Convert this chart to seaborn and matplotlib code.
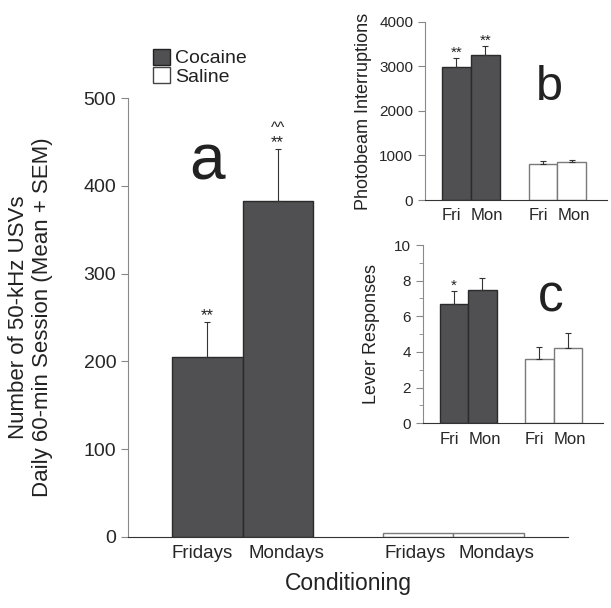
import pandas as pd
import seaborn as sns
import matplotlib.pyplot as plt
from matplotlib.patches import Patch
from matplotlib.ticker import MultipleLocator
from matplotlib.transforms import ScaledTranslation

# -----------------------------
# Data
# -----------------------------
groups = ['Cocaine', 'Cocaine', 'Saline', 'Saline']
long_days = ['Fridays', 'Mondays', 'Fridays', 'Mondays']
short_days = ['Fri', 'Mon', 'Fri', 'Mon']

usv_mean = [205, 383, 4, 5]
usv_sem = [40, 59, 0, 0]
usv_marks = ['**', '**', '', '']

beam_mean = [2980, 3250, 820, 850]
beam_sem = [200, 210, 60, 50]
beam_marks = ['**', '**', '', '']

lever_mean = [6.7, 7.5, 3.6, 4.2]
lever_sem = [0.72, 0.65, 0.65, 0.85]
lever_marks = ['*', '', '', '']

bar_pos = [0, 1, 3, 4]
DARK = '#505052'

sns.set_style('ticks')
plt.rcParams['font.family'] = ['Liberation Sans', 'DejaVu Sans']
plt.rcParams['text.color'] = '#222222'
plt.rcParams['axes.labelcolor'] = '#222222'


def draw_panel(ax, means, sems, marks, labels, star_size):
    df = pd.DataFrame({'pos': bar_pos, 'value': means, 'group': groups})
    sns.barplot(data=df, x='pos', y='value', hue='group', native_scale=True,
                dodge=False, width=1.0, palette={'Cocaine': DARK, 'Saline': 'white'},
                legend=False, errorbar=None, ax=ax, linewidth=1.0)
    for p in ax.patches:
        if p.get_facecolor()[0] > 0.9:
            p.set_edgecolor('#7a7a7a')
        else:
            p.set_edgecolor('#2a2a2a')
    for x, m, s, t in zip(bar_pos, means, sems, marks):
        if s > 0:
            ax.errorbar([x], [m], yerr=[[0], [s]], fmt='none', ecolor='#333333',
                        elinewidth=0.8, capsize=2.2, capthick=0.8)
        if t:
            ax.annotate(t, (x, m + s), xytext=(0, -1), textcoords='offset points',
                        ha='center', va='bottom', fontsize=star_size)
    ax.set_xticks(bar_pos)
    ax.set_xticklabels(labels)
    ax.tick_params(axis='x', length=0, pad=6)
    ax.tick_params(axis='y', direction='out', length=5, color='#888888')
    sns.despine(ax=ax)
    ax.spines['left'].set_color('#8a8a8a')
    ax.spines['bottom'].set_color('#333333')
    ax.set_xlabel('')


def nudge_labels(ax, shifts_px):
    # small horizontal nudges of the x tick labels (in pixels)
    for lab, dx in zip(ax.get_xticklabels(), shifts_px):
        lab.set_transform(lab.get_transform() + ScaledTranslation(dx / 100, 0, fig.dpi_scale_trans))


fig = plt.figure(figsize=(6.11, 6.08), dpi=100)

# main panel a
ax = fig.add_axes([0.2095, 0.1168, 0.720, 0.722])
draw_panel(ax, usv_mean, usv_sem, usv_marks, long_days, 12)
ax.annotate('^^', (1, usv_mean[1] + usv_sem[1]), xytext=(0, 10), textcoords='offset points',
            ha='center', va='bottom', fontsize=11)
ax.set_xlim(-1.13, 5.13)
ax.set_ylim(0, 500)
ax.set_yticks(range(0, 501, 100))
ax.tick_params(axis='y', labelsize=14)
ax.tick_params(axis='x', labelsize=13.5)
ax.set_ylabel('Number of 50-kHz USVs\nDaily 60-min Session (Mean + SEM)', fontsize=16, labelpad=22)
ax.set_xlabel('Conditioning', fontsize=16.5, labelpad=7)
ax.text(0.0, 426, 'a', fontsize=46, ha='center', va='center')
nudge_labels(ax, [-5, 9, -3, 8])

# inset b
axb = fig.add_axes([0.6956, 0.671, 0.298, 0.293])
draw_panel(axb, beam_mean, beam_sem, beam_marks, short_days, 11)
axb.set_xlim(-1.09, 5.22)
axb.set_ylim(0, 4000)
axb.set_yticks(range(0, 4001, 1000))
axb.tick_params(axis='y', labelsize=11)
axb.tick_params(axis='x', labelsize=12)
axb.set_ylabel('Photobeam Interruptions', fontsize=13, labelpad=5)
axb.text(3.22, 2520, 'b', fontsize=35, ha='center', va='center')
nudge_labels(axb, [-5, 2, -5, 2])

# inset c
axc = fig.add_axes([0.692, 0.304, 0.2946, 0.293])
draw_panel(axc, lever_mean, lever_sem, lever_marks, short_days, 11)
axc.set_xlim(-1.09, 5.22)
axc.set_ylim(0, 10)
axc.set_yticks(range(0, 11, 2))
axc.yaxis.set_minor_locator(MultipleLocator(1))
axc.tick_params(axis='y', which='minor', length=3, color='#888888')
axc.tick_params(axis='y', labelsize=11)
axc.tick_params(axis='x', labelsize=12)
axc.set_ylabel('Lever Responses', fontsize=13, labelpad=10)
axc.text(3.4, 7.05, 'c', fontsize=37, ha='center', va='center')
nudge_labels(axc, [-5, 2, -5, 2])

handles = [Patch(facecolor=DARK, edgecolor='#222222', label='Cocaine'),
           Patch(facecolor='white', edgecolor='#444444', label='Saline')]
fig.legend(handles=handles, loc='upper left', bbox_to_anchor=(153 / 611, 1 - 49 / 608),
           frameon=False, fontsize=14, handlelength=0.85, handleheight=0.85,
           handletextpad=0.3, labelspacing=0.0, borderpad=0, borderaxespad=0)

plt.savefig('out.png', dpi=100)
